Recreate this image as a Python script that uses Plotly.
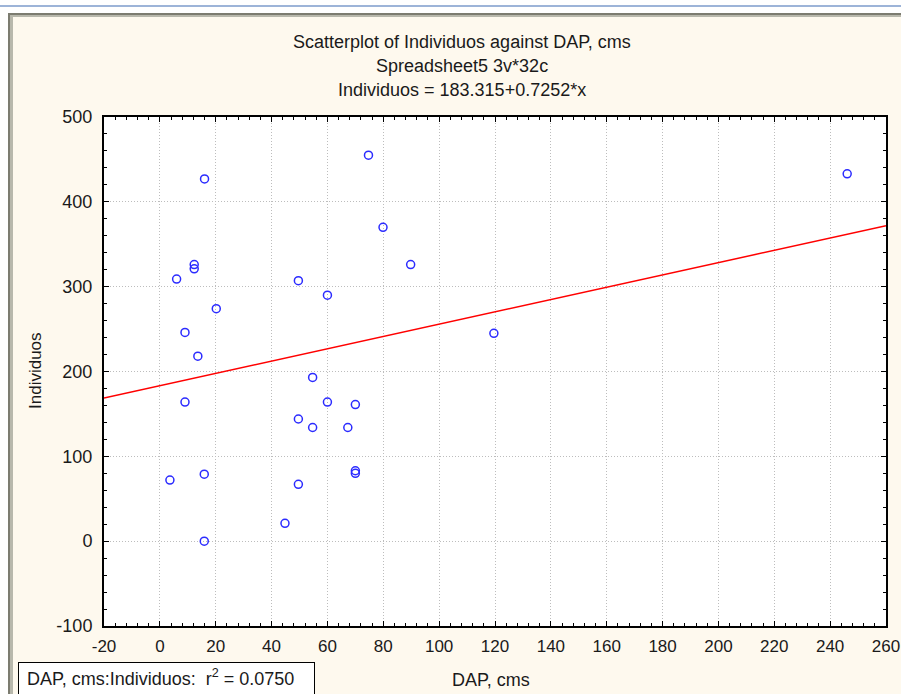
import plotly.graph_objects as go

# Data
dap = [16, 12.3, 12.3, 6.0, 49.6, 60.0, 20.2, 9.0, 13.6, 54.7, 9.0, 60.0, 49.6, 54.7,
       67.3, 3.6, 15.9, 49.6, 44.8, 15.9, 74.7, 79.9, 89.8, 119.6, 70.0, 70.0, 70.0, 246.1]
individuos = [427, 326, 321, 309, 307, 290, 274, 246, 218, 193, 164, 164, 144, 134,
              134, 72, 79, 67, 21, 0, 455, 370, 326, 245, 161, 83, 80, 433]
intercept = 183.315
slope = 0.7252
x_range = [-20, 260]
y_range = [-100, 500]
x_ticks = list(range(-20, 261, 20))
y_ticks = list(range(-100, 501, 100))
x_ticktext = [str(v) for v in x_ticks]
y_ticktext = [str(v) for v in y_ticks]

title_lines = ["Scatterplot of Individuos against DAP, cms",
               "Spreadsheet5 3v*32c",
               "Individuos = 183.315+0.7252*x"]
x_title = "DAP, cms"
y_title = "Individuos"
legend_text = " DAP, cms:Individuos:  r<sup>2</sup> = 0.0750"

W, H = 901, 694
L, R, T, B = 104, 15, 117, 68
pw, ph = W - L - R, H - T - B

def px(x):  # pixel -> paper x
    return (x - L) / pw

def py(y):  # pixel -> paper y
    return (H - B - y) / ph

font = "Liberation Sans, Arial, sans-serif"
cream = "#FEF9EE"
txt = "#1A1A1A"

fig = go.Figure()
fig.add_trace(go.Scatter(
    x=x_range, y=[intercept + slope * v for v in x_range], mode="lines",
    line=dict(color="#FF0000", width=1.5), hoverinfo="skip"))
fig.add_trace(go.Scatter(
    x=dap, y=individuos, mode="markers",
    marker=dict(symbol="circle-open", size=8, color="#2B2BFF", line=dict(width=1.5))))

axis_common = dict(
    showline=True, linecolor="black", linewidth=2, mirror="ticks",
    ticks="inside", ticklen=5, tickcolor="black", tickwidth=1,
    showgrid=True, gridcolor="#BDBDBD", griddash="1px,2px", gridwidth=1,
    zeroline=False, automargin=False,
)

fig.update_xaxes(range=x_range, tickvals=x_ticks, ticktext=x_ticktext, ticklabelstandoff=4,
                 tickfont=dict(family=font, size=17, color=txt),
                 minor=dict(dtick=4, tick0=0, ticks="inside", ticklen=3, tickcolor="black", showgrid=False),
                 **axis_common)
fig.update_yaxes(range=y_range, tickvals=y_ticks, ticktext=y_ticktext, ticklabelstandoff=6,
                 tickfont=dict(family=font, size=18, color=txt),
                 minor=dict(dtick=20, tick0=0, ticks="inside", ticklen=3, tickcolor="black", showgrid=False),
                 **axis_common)

annotations = []
for i, t in enumerate(title_lines):
    annotations.append(dict(text=t, x=px(462), y=py(42 + 24 * i), xref="paper", yref="paper",
                            showarrow=False, xanchor="center", yanchor="middle",
                            font=dict(family=font, size=18, color=txt)))
annotations.append(dict(text=x_title, x=px(491), y=py(680), xref="paper", yref="paper",
                        showarrow=False, xanchor="center", yanchor="middle",
                        font=dict(family=font, size=18, color=txt)))
annotations.append(dict(text=y_title, x=px(35), y=py(371), xref="paper", yref="paper",
                        showarrow=False, xanchor="center", yanchor="middle", textangle=-90,
                        font=dict(family=font, size=17, color=txt)))
annotations.append(dict(text=legend_text, x=px(18), y=py(662), xref="paper", yref="paper",
                        showarrow=False, xanchor="left", yanchor="top", align="left",
                        width=289, height=44, valign="top",
                        bordercolor="black", borderwidth=1, bgcolor="white", borderpad=3,
                        font=dict(family=font, size=18, color=txt)))

shapes = [
    dict(type="rect", xref="paper", yref="paper", x0=px(0), x1=px(W), y0=py(0), y1=py(5),
         fillcolor="white", line=dict(width=0), layer="above"),
    dict(type="rect", xref="paper", yref="paper", x0=px(0), x1=px(W), y0=py(5), y1=py(7),
         fillcolor="#9DB4D8", line=dict(width=0), layer="above"),
    dict(type="rect", xref="paper", yref="paper", x0=px(0), x1=px(W), y0=py(7), y1=py(13),
         fillcolor="white", line=dict(width=0), layer="above"),
    dict(type="rect", xref="paper", yref="paper", x0=px(8), x1=px(W), y0=py(13), y1=py(15),
         fillcolor="#7C7C70", line=dict(width=0), layer="above"),
    dict(type="rect", xref="paper", yref="paper", x0=px(8), x1=px(W), y0=py(15), y1=py(17),
         fillcolor="#B8B8AC", line=dict(width=0), layer="above"),
    dict(type="rect", xref="paper", yref="paper", x0=px(0), x1=px(8), y0=py(13), y1=py(H),
         fillcolor="white", line=dict(width=0), layer="above"),
    dict(type="rect", xref="paper", yref="paper", x0=px(8), x1=px(10), y0=py(13), y1=py(H),
         fillcolor="#7C7C70", line=dict(width=0), layer="above"),
    dict(type="rect", xref="paper", yref="paper", x0=px(10), x1=px(13), y0=py(15), y1=py(H),
         fillcolor="#B8B8AC", line=dict(width=0), layer="above"),
]

fig.update_layout(
    width=W, height=H, margin=dict(l=L, r=R, t=T, b=B),
    paper_bgcolor=cream, plot_bgcolor="white", showlegend=False,
    annotations=annotations, shapes=shapes,
)

fig.write_html("out.html")
